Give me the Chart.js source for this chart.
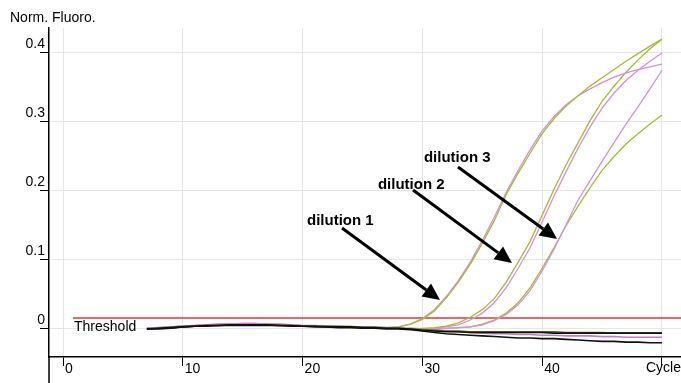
<!DOCTYPE html>
<html>
<head>
<meta charset="utf-8">
<script src="https://cdn.jsdelivr.net/npm/chart.js@4.4.1/dist/chart.umd.min.js"></script>
<style>
  html, body { margin: 0; padding: 0; background: #fff; }
  #wrap { width: 681px; height: 383px; }
</style>
</head>
<body>
<div id="wrap"><canvas id="pcrChart" width="681" height="383"></canvas></div>
<script>
// cycles 7..50
const cycles = [7, 8, 9, 10, 11, 12, 13, 14, 15, 16, 17, 18, 19, 20, 21, 22, 23, 24, 25, 26, 27, 28,
  29, 30, 31, 32, 33, 34, 35, 36, 37, 38, 39, 40, 41, 42, 43, 44, 45, 46, 47, 48, 49, 50];

// amplifying samples (pairs per dilution)
const dil1Green = [0.001, 0.0015, 0.003, 0.004, 0.005, 0.006, 0.006, 0.007, 0.007, 0.007, 0.007, 0.006, 0.006, 0.005, 0.005, 0.004, 0.004, 0.004, 0.003, 0.003, 0.002, 0.003,
  0.007, 0.014, 0.026, 0.045, 0.068, 0.094, 0.124, 0.157, 0.195, 0.226, 0.255, 0.283, 0.305, 0.323, 0.338, 0.352, 0.364, 0.376, 0.388, 0.399, 0.41, 0.42];
const dil1Pink = [0.001, 0.002, 0.003, 0.004, 0.005, 0.006, 0.007, 0.007, 0.008, 0.008, 0.007, 0.007, 0.006, 0.005, 0.005, 0.004, 0.004, 0.003, 0.003, 0.003, 0.002, 0.003,
  0.007, 0.015, 0.028, 0.047, 0.07, 0.097, 0.128, 0.162, 0.198, 0.23, 0.26, 0.287, 0.308, 0.325, 0.338, 0.348, 0.357, 0.365, 0.371, 0.376, 0.38, 0.384];
const dil2Green = [0.001, 0.0015, 0.002, 0.004, 0.005, 0.005, 0.006, 0.006, 0.007, 0.007, 0.006, 0.006, 0.005, 0.005, 0.004, 0.004, 0.004, 0.003, 0.003, 0.002, 0.002, 0.001,
  0.001, 0.001, 0.002, 0.004, 0.009, 0.017, 0.028, 0.044, 0.068, 0.097, 0.127, 0.165, 0.203, 0.238, 0.27, 0.302, 0.33, 0.352, 0.372, 0.39, 0.406, 0.42];
const dil2Pink = [0.001, 0.002, 0.003, 0.004, 0.005, 0.006, 0.006, 0.007, 0.007, 0.007, 0.007, 0.006, 0.006, 0.005, 0.004, 0.004, 0.003, 0.003, 0.003, 0.002, 0.002, 0.001,
  0.001, 0.0, 0.001, 0.003, 0.006, 0.013, 0.023, 0.038, 0.06, 0.088, 0.118, 0.155, 0.193, 0.228, 0.262, 0.293, 0.32, 0.342, 0.36, 0.375, 0.388, 0.4];
const dil3Pink = [0.001, 0.0015, 0.003, 0.004, 0.005, 0.006, 0.006, 0.007, 0.007, 0.007, 0.007, 0.006, 0.005, 0.005, 0.004, 0.004, 0.003, 0.003, 0.002, 0.002, 0.001, 0.001,
  0.001, 0.0, 0.0, 0.001, 0.002, 0.003, 0.006, 0.012, 0.021, 0.035, 0.056, 0.084, 0.116, 0.151, 0.187, 0.215, 0.243, 0.27, 0.297, 0.322, 0.348, 0.375];
const dil3Green = [0.001, 0.0015, 0.002, 0.003, 0.004, 0.005, 0.006, 0.006, 0.006, 0.006, 0.006, 0.006, 0.005, 0.005, 0.004, 0.004, 0.003, 0.003, 0.002, 0.002, 0.001, 0.001,
  0.001, 0.0, 0.0, 0.001, 0.002, 0.003, 0.007, 0.013, 0.023, 0.038, 0.06, 0.088, 0.118, 0.15, 0.178, 0.205, 0.23, 0.25, 0.268, 0.283, 0.297, 0.31];

// non-amplifying samples
const negBlackA = [0.0, 0.001, 0.002, 0.003, 0.004, 0.005, 0.005, 0.006, 0.006, 0.006, 0.006, 0.005, 0.005, 0.004, 0.004, 0.003, 0.003, 0.003, 0.002, 0.002, 0.001, 0.001,
  0.0, -0.002, -0.003, -0.004, -0.004, -0.005, -0.005, -0.005, -0.005, -0.005, -0.005, -0.005, -0.006, -0.006, -0.006, -0.006, -0.006, -0.006, -0.006, -0.006, -0.006, -0.006];
const negBlackB = [0.0, 0.0, 0.001, 0.003, 0.004, 0.004, 0.005, 0.005, 0.005, 0.005, 0.005, 0.005, 0.004, 0.004, 0.003, 0.003, 0.002, 0.002, 0.001, 0.001, 0.0, 0.0,
  -0.001, -0.003, -0.005, -0.007, -0.008, -0.009, -0.01, -0.011, -0.012, -0.013, -0.013, -0.014, -0.014, -0.015, -0.016, -0.017, -0.018, -0.018, -0.019, -0.019, -0.02, -0.02];
const negOlive = [0.0, 0.001, 0.002, 0.003, 0.004, 0.005, 0.005, 0.006, 0.006, 0.006, 0.006, 0.005, 0.005, 0.004, 0.004, 0.004, 0.003, 0.003, 0.002, 0.002, 0.001, 0.001,
  0.0, -0.001, -0.002, -0.003, -0.003, -0.004, -0.004, -0.004, -0.004, -0.004, -0.004, -0.004, -0.004, -0.005, -0.005, -0.005, -0.005, -0.006, -0.006, -0.006, -0.006, -0.006];
const negPink = [0.001, 0.002, 0.003, 0.004, 0.005, 0.006, 0.007, 0.007, 0.008, 0.008, 0.007, 0.007, 0.006, 0.005, 0.005, 0.004, 0.004, 0.003, 0.003, 0.002, 0.002, 0.001,
  0.0, -0.001, -0.002, -0.003, -0.004, -0.005, -0.006, -0.007, -0.007, -0.008, -0.008, -0.009, -0.009, -0.01, -0.01, -0.01, -0.011, -0.011, -0.012, -0.012, -0.012, -0.012];

const thresholdValue = 0.016;
const thresholdStart = 0.83;

const xTicks = [0, 10, 20, 30, 40, 50];
const xTickLabels = ['0', '10', '20', '30', '40', ''];
const yTicks = [0, 0.1, 0.2, 0.3, 0.4];
const yTickLabels = ['0', '0.1', '0.2', '0.3', '0.4'];

// arrow annotations: label position and arrow start/tip, in cycle / fluorescence units
const dilutionLabels = ['dilution 1', 'dilution 2', 'dilution 3'];
const labelPos = [[20.37, 0.1565], [26.29, 0.2087], [30.13, 0.2478]];
const arrowFrom = [[23.29, 0.1464], [29.22, 0.2014], [32.97, 0.2348]];
const arrowTo = [[31.47, 0.042], [37.48, 0.0957], [41.24, 0.1304]];

const PINK = '#d590d5';
const GREEN = '#a8b63c';
const FONT = 'Liberation Sans, Arial, sans-serif';

Chart.defaults.font.family = FONT;
Chart.defaults.color = '#000';

const toPoints = ys => ys.map((y, i) => ({ x: cycles[i], y: y }));

function curve(ys, color, width) {
  return {
    data: toPoints(ys),
    borderColor: color,
    borderWidth: width,
    pointRadius: 0,
    tension: 0,
    fill: false
  };
}

const notesPlugin = {
  id: 'pcrNotes',
  afterDatasetsDraw(chart) {
    const { ctx, scales: { x, y }, chartArea } = chart;
    ctx.save();

    // Threshold label
    ctx.font = '14px ' + FONT;
    ctx.fillStyle = '#000';
    ctx.textAlign = 'left';
    ctx.textBaseline = 'middle';
    ctx.fillText('Threshold', x.getPixelForValue(0.92), y.getPixelForValue(0.003));

    // dilution labels + arrows
    ctx.font = 'bold 15px ' + FONT;
    dilutionLabels.forEach((txt, i) => {
      ctx.fillText(txt, x.getPixelForValue(labelPos[i][0]), y.getPixelForValue(labelPos[i][1]));

      const x1 = x.getPixelForValue(arrowFrom[i][0]);
      const y1 = y.getPixelForValue(arrowFrom[i][1]);
      const x2 = x.getPixelForValue(arrowTo[i][0]);
      const y2 = y.getPixelForValue(arrowTo[i][1]);
      const ang = Math.atan2(y2 - y1, x2 - x1);
      const headLen = 17, headHalf = 8;
      const bx = x2 - headLen * Math.cos(ang);
      const by = y2 - headLen * Math.sin(ang);

      ctx.strokeStyle = '#000';
      ctx.lineWidth = 3;
      ctx.beginPath();
      ctx.moveTo(x1, y1);
      ctx.lineTo(bx, by);
      ctx.stroke();

      ctx.beginPath();
      ctx.moveTo(x2, y2);
      ctx.lineTo(bx + headHalf * Math.sin(ang), by - headHalf * Math.cos(ang));
      ctx.lineTo(bx - headHalf * Math.sin(ang), by + headHalf * Math.cos(ang));
      ctx.closePath();
      ctx.fill();
    });

    ctx.restore();
  },
  afterDraw(chart) {
    const { ctx, chartArea } = chart;
    ctx.save();
    // y axis title
    ctx.font = '14px ' + FONT;
    ctx.fillStyle = '#000';
    ctx.textAlign = 'left';
    ctx.textBaseline = 'middle';
    ctx.fillText('Norm. Fluoro.', 10, 18);
    // y axis line runs on below the x axis
    ctx.strokeStyle = '#000';
    ctx.lineWidth = 1.5;
    ctx.beginPath();
    ctx.moveTo(chartArea.left, chartArea.bottom);
    ctx.lineTo(chartArea.left, chart.height);
    ctx.stroke();
    ctx.restore();
  }
};

new Chart(document.getElementById('pcrChart'), {
  type: 'line',
  data: {
    datasets: [
      curve(negBlackA, '#111111', 1.6),
      curve(negBlackB, '#111111', 1.6),
      curve(negOlive, '#5f6d25', 1.6),
      curve(negPink, '#c47cc4', 1.6),
      curve(dil1Green, GREEN, 1.3),
      curve(dil1Pink, PINK, 1.3),
      curve(dil2Green, GREEN, 1.3),
      curve(dil2Pink, PINK, 1.3),
      curve(dil3Pink, PINK, 1.3),
      curve(dil3Green, GREEN, 1.3),
      {
        data: [{ x: thresholdStart, y: thresholdValue }, { x: 60, y: thresholdValue }],
        borderColor: '#d63a3a',
        borderWidth: 1.5,
        pointRadius: 0
      }
    ]
  },
  options: {
    responsive: false,
    animation: false,
    devicePixelRatio: 1,
    layout: { padding: { top: 28, right: 0, left: 0, bottom: 0 } },
    plugins: {
      legend: { display: false },
      tooltip: { enabled: false }
    },
    scales: {
      x: {
        type: 'linear',
        min: -1.17,
        max: 51.59,
        afterFit: s => { s.height = 26; },
        afterBuildTicks: s => { s.ticks = xTicks.map(v => ({ value: v })); },
        ticks: {
          callback: v => xTickLabels[xTicks.indexOf(v)],
          align: 'start',
          labelOffset: 2,
          padding: -5,
          autoSkip: false,
          maxRotation: 0,
          font: { size: 14 },
          color: '#000'
        },
        grid: { color: '#e6e6e6', tickColor: '#000', tickLength: 9, lineWidth: 1 },
        border: { color: '#000', width: 1.5 },
        title: {
          display: true,
          text: 'Cycle',
          align: 'end',
          font: { size: 14 },
          color: '#000',
          padding: { top: 0, bottom: 6 }
        }
      },
      y: {
        type: 'linear',
        min: -0.0406,
        max: 0.4362,
        afterFit: s => { s.width = 49; },
        afterBuildTicks: s => { s.ticks = yTicks.map(v => ({ value: v })); },
        ticks: {
          callback: v => yTickLabels[yTicks.indexOf(v)],
          padding: -5,
          labelOffset: -9,
          font: { size: 14 },
          color: '#000'
        },
        grid: { color: '#e6e6e6', tickColor: '#000', tickLength: 9, lineWidth: 1 },
        border: { color: '#000', width: 1.5 }
      }
    }
  },
  plugins: [notesPlugin]
});
</script>
</body>
</html>
